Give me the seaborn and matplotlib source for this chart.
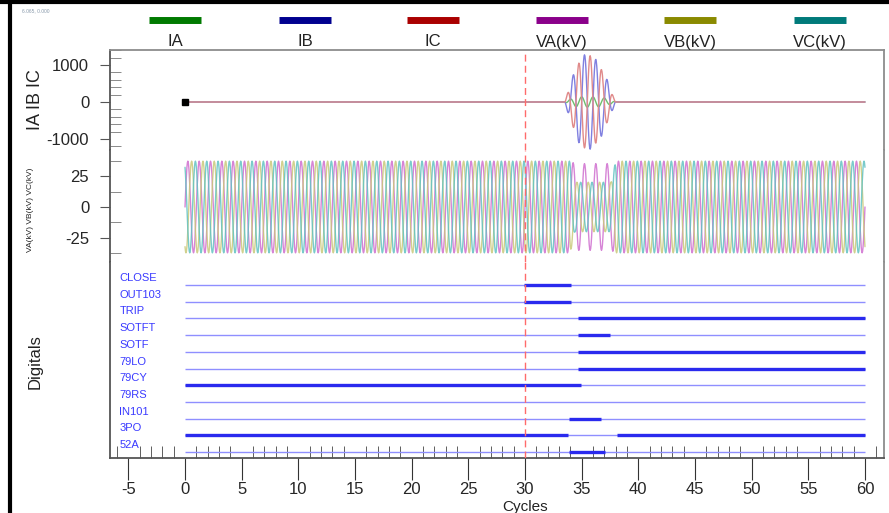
import numpy as np
import pandas as pd
import matplotlib
matplotlib.use("Agg")
import matplotlib.pyplot as plt
from matplotlib.lines import Line2D
from matplotlib.ticker import MultipleLocator
import seaborn as sns

sns.set_style("white")
plt.rcParams['font.family'] = ['Liberation Sans', 'DejaVu Sans']
plt.rcParams['axes.unicode_minus'] = False

# ---------------- data ----------------
legend_labels = ["IA", "IB", "IC", "VA(kV)", "VB(kV)", "VC(kV)"]
legend_colors = ["#007a00", "#00008f", "#aa0000", "#8a008a", "#8a8a00", "#007a7a"]

x_ticks = [-5, 0, 5, 10, 15, 20, 25, 30, 35, 40, 45, 50, 55, 60]
cur_ticks = [-1000, 0, 1000]
volt_ticks = [-25, 0, 25]
event_cycle = 30.0

# current burst envelopes (cycle, amplitude)
cur_env_cyc = [33.5, 34.0, 34.5, 35.0, 35.5, 36.0, 36.5, 37.0, 37.5, 38.0]
ia_env = [0, 80, 130, 140, 140, 140, 130, 110, 70, 0]
ib_env = [0, 500, 950, 1250, 1300, 1250, 1050, 800, 400, 0]
ic_env = [0, 450, 900, 1200, 1280, 1220, 1000, 750, 350, 0]
cur_phase_deg = [90, 0, 180]

# voltage envelopes (cycle, amplitude kV)
volt_env_cyc = [0.0, 34.0, 34.4, 37.6, 38.0, 60.0]
va_env = [37, 37, 35, 35, 37, 37]
vb_env = [37, 37, 20, 20, 37, 37]
vc_env = [37, 37, 20, 20, 37, 37]
volt_phase_deg = [0, -120, 120]

digital_names = ["CLOSE", "OUT103", "TRIP", "SOTFT", "SOTF", "79LO",
                 "79CY", "79RS", "IN101", "3PO", "52A"]
digital_on = [
    [(29.9, 34.1)],
    [(29.9, 34.1)],
    [(34.7, 60.0)],
    [(34.7, 37.5)],
    [(34.7, 60.0)],
    [(34.7, 60.0)],
    [(0.0, 34.9)],
    [],
    [(33.9, 36.7)],
    [(0.0, 33.8), (38.1, 60.0)],
    [(33.9, 37.1)],
]
record_start, record_end = 0.0, 60.0

# ---------------- waveforms ----------------
spc = 24
t = np.linspace(record_start, record_end, int((record_end - record_start) * spc) + 1)

def wave(env_c, env_a, ph):
    a = np.interp(t, env_c, env_a, left=0, right=0)
    return a * np.sin(2 * np.pi * t + np.deg2rad(ph))

cur_df = pd.concat([
    pd.DataFrame({"t": t, "v": wave(cur_env_cyc, e, p), "ch": n})
    for n, e, p in zip(["IA", "IB", "IC"], [ia_env, ib_env, ic_env], cur_phase_deg)
])
volt_df = pd.concat([
    pd.DataFrame({"t": t, "v": wave(volt_env_cyc, e, p), "ch": n})
    for n, e, p in zip(["VA", "VB", "VC"], [va_env, vb_env, vc_env], volt_phase_deg)
])

# ---------------- figure ----------------
W, H = 889, 513
fig = plt.figure(figsize=(W / 100, H / 100), dpi=100)

def fy(px):
    return 1 - px / H

left = 110 / W
width = (884 - 110) / W
ax1 = fig.add_axes([left, fy(150), width, fy(50) - fy(150)])
ax2 = fig.add_axes([left, fy(262), width, fy(150) - fy(262)])
ax3 = fig.add_axes([left, fy(458), width, fy(262) - fy(458)])

xlim = (-6.62, 61.68)
for ax in (ax1, ax2, ax3):
    ax.set_xlim(*xlim)
    ax.set_facecolor("white")
    for s in ax.spines.values():
        s.set_visible(True)
        s.set_color("#8c8c8c")
        s.set_linewidth(1.3)
    ax.spines["left"].set_color("#555555")
    ax.axvline(event_cycle, color="#ff6b6b", lw=1.0, ls=(0, (5, 3)), zorder=5)

ax1.spines["bottom"].set_visible(False)
ax2.spines["top"].set_visible(False)
ax2.spines["bottom"].set_visible(False)
ax3.spines["top"].set_visible(False)
ax3.spines["bottom"].set_color("#555555")

# currents
cur_palette = {"IA": "#6fbf6f", "IB": "#8080e0", "IC": "#e08a8a"}
sns.lineplot(data=cur_df, x="t", y="v", hue="ch", palette=cur_palette,
             ax=ax1, legend=False, lw=1.0, estimator=None, sort=False)
ax1.plot([0], [0], marker="s", color="black", ms=4, zorder=6)
ax1.set_ylim(-1297, 1405)
ax1.set_yticks(cur_ticks)
ax1.yaxis.set_minor_locator(MultipleLocator(200))

# voltages
volt_palette = {"VA": "#cf6fcf", "VB": "#c9c97a", "VC": "#62c2c2"}
sns.lineplot(data=volt_df, x="t", y="v", hue="ch", palette=volt_palette,
             ax=ax2, legend=False, lw=1.0, estimator=None, sort=False, alpha=0.85)
ax2.set_ylim(-44.4, 46)
ax2.set_yticks(volt_ticks)
ax2.yaxis.set_minor_locator(MultipleLocator(12.5))

for ax in (ax1, ax2):
    ax.tick_params(axis="y", which="major", direction="out", length=7,
                   color="#555555", labelsize=12, pad=8, left=True)
    ax.tick_params(axis="y", which="minor", direction="in", length=8,
                   color="#777777", left=True)
    ax.set_xticks([])
    ax.set_xlabel("")
    ax.set_ylabel("")

# digitals
for i, (name, ons) in enumerate(zip(digital_names, digital_on)):
    y = -i
    ax3.hlines(y, record_start, record_end, color="#8f8fff", lw=1.0, zorder=2)
    for a, b in ons:
        ax3.hlines(y, a, b, color="#2a2aee", lw=2.4, zorder=3)
    ax3.text(-5.8, y + 0.42, name, color="#3a3aff", fontsize=8,
             ha="left", va="center", zorder=4)
ax3.set_ylim(-10.36, 1.38)
ax3.set_yticks([])
ax3.set_xticks(x_ticks)
ax3.xaxis.set_minor_locator(MultipleLocator(1))
ax3.tick_params(axis="x", which="major", direction="out", length=16,
                color="#333333", labelsize=12, pad=1.5, bottom=True)
ax3.tick_params(axis="x", which="minor", direction="in", length=9,
                color="#444444", bottom=True)
ax3.set_xlabel("")
fig.text((left + width * (30 - xlim[0]) / (xlim[1] - xlim[0])), fy(513.5),
         "Cycles", fontsize=11, ha="center", va="bottom", color="#222222")

# y labels
fig.text(35 / W, fy(100), "IA IB IC", rotation=90, fontsize=13,
         ha="center", va="center", color="#222222")
fig.text(31 / W, fy(210), "VA(kV) VB(kV) VC(kV)", rotation=90, fontsize=6,
         ha="center", va="center", color="#222222")
fig.text(35 / W, fy(362), "Digitals", rotation=90, fontsize=12,
         ha="center", va="center", color="#222222")

# legend strip
centers = [175, 305, 433, 562, 690, 820]
for cx, lab, col in zip(centers, legend_labels, legend_colors):
    fig.add_artist(Line2D([(cx - 26) / W, (cx + 26) / W], [fy(20), fy(20)],
                          transform=fig.transFigure, color=col, lw=5,
                          solid_capstyle="butt"))
    fig.text(cx / W, fy(42), lab, fontsize=12, ha="center", va="center",
             color="#222222")

# frame
fig.add_artist(Line2D([9.5 / W, 9.5 / W], [0, 1], transform=fig.transFigure,
                      color="black", lw=3))
fig.add_artist(Line2D([0, 1], [fy(1.5), fy(1.5)], transform=fig.transFigure,
                      color="black", lw=3))
fig.text(22 / W, fy(11), "6.065, 0.000", fontsize=3.5, color="#8899aa",
         ha="left", va="center")

fig.savefig("out.png", dpi=100)
